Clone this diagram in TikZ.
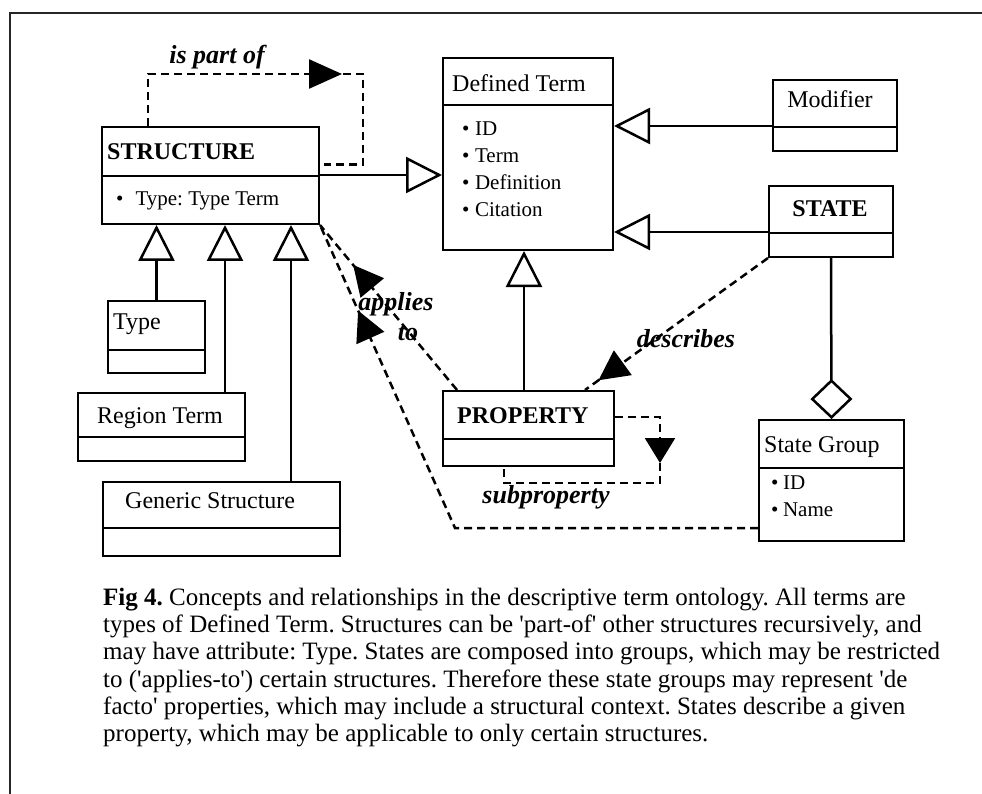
\documentclass[tikz,border=0pt]{standalone}
\usepackage{fontspec}
\newfontfamily\tnr{Liberation Serif}
\usetikzlibrary{arrows.meta,decorations.markings}
\frenchspacing

\begin{document}
\begin{tikzpicture}[x=1pt,y=-1pt,
  box/.style={draw, line width=2pt, inner sep=0pt, anchor=north west},
  txt/.style={inner sep=0pt, font=\tnr\fontsize{24}{28}\selectfont},
  btxt/.style={inner sep=0pt, font=\tnr\bfseries\fontsize{24}{28}\selectfont},
  attr/.style={inner sep=0pt, anchor=base west, font=\tnr\fontsize{21}{25}\selectfont},
  lbl/.style={inner sep=0pt, anchor=base, font=\tnr\bfseries\itshape\fontsize{26}{30}\selectfont},
  captext/.style={inner sep=0pt, anchor=base west, font=\tnr\fontsize{25}{29}\selectfont},
  conn/.style={line width=2.5pt},
  gen/.style={conn, -{Triangle[open, length=36pt, width=36pt]}},
  dep/.style={line width=2.5pt, dash pattern=on 8pt off 5pt},
  tipat/.style n args={3}{postaction={decorate, solid},
    decoration={markings, mark=at position #1 with {\arrow{Triangle[length=#2, width=#3]}}}},
]
\useasboundingbox (0,0) rectangle (982,794);

% frame
\draw[line width=2.5pt, black!85] (10,820) -- (10,13) -- (1000,13);

% class boxes: title part and attribute part
\node[box, minimum width=217pt, minimum height=49pt] (st)  at (101,126) {};
\node[box, minimum width=217pt, minimum height=48pt] (sta) at (101,175) {};
\node[box, minimum width=170pt, minimum height=47pt] (dt)  at (442,57) {};
\node[box, minimum width=170pt, minimum height=145pt] (dta) at (442,104) {};
\node[box, minimum width=124pt, minimum height=47pt] (mo)  at (772,79) {};
\node[box, minimum width=124pt, minimum height=24pt] (moa) at (772,126) {};
\node[box, minimum width=124pt, minimum height=47pt] (ss)  at (768,185) {};
\node[box, minimum width=124pt, minimum height=24pt] (ssa) at (768,232) {};
\node[box, minimum width=145pt, minimum height=48pt] (sg)  at (758,419) {};
\node[box, minimum width=145pt, minimum height=73pt] (sga) at (758,467) {};
\node[box, minimum width=171pt, minimum height=48pt] (pr)  at (442,390) {};
\node[box, minimum width=171pt, minimum height=27pt] (pra) at (442,438) {};
\node[box, minimum width=97pt,  minimum height=49pt] (ty)  at (107,300) {};
\node[box, minimum width=97pt,  minimum height=23pt] (tya) at (107,349) {};
\node[box, minimum width=167pt, minimum height=44pt] (rt)  at (77,392) {};
\node[box, minimum width=167pt, minimum height=24pt] (rta) at (77,436) {};
\node[box, minimum width=237pt, minimum height=46pt] (gs)  at (102,481) {};
\node[box, minimum width=237pt, minimum height=28pt] (gsa) at (102,527) {};

% box texts
\node[btxt, anchor=base west] (stT) at (107,160) {STRUCTURE};
\node[attr] (stA) at (116,206) {\textbullet\hspace{12pt}Type: Type Term};
\node[txt, anchor=base west] (dtT) at (452,92) {Defined Term};
\foreach \t [count=\i] in {ID,Term,Definition,Citation}
  \node[attr] (dtA\i) at (462,109+27*\i) {\textbullet\hspace{5.5pt}\t};
\node[txt, anchor=base] (moT) at (830,108) {Modifier};
\node[btxt, anchor=base] (ssT) at (830,217) {STATE};
\node[txt, anchor=base west] (sgT) at (764,452) {State Group};
\node[attr] (sgA1) at (771,489) {\textbullet\hspace{4.5pt}ID};
\node[attr] (sgA2) at (771,516) {\textbullet\hspace{4.5pt}Name};
\node[btxt, anchor=base west] (prT) at (457,423) {PROPERTY};
\node[txt, anchor=base west] (tyT) at (113,329) {Type};
\node[txt, anchor=base west] (rtT) at (97,423) {Region Term};
\node[txt, anchor=base west] (gsT) at (125,508) {Generic Structure};

% generalisations
\coordinate (rtx) at ([xshift=-21pt]rt.north east);
\coordinate (gsx) at ([xshift=-50pt]gs.north east);
\coordinate (prx) at ([xshift=-4.5pt]pr.north);
\draw[gen] (ty.north) -- (ty.north |- sta.south);
\draw[gen] (rtx) -- (rtx |- sta.south);
\draw[gen] (gsx) -- (gsx |- sta.south);
\draw[gen] (sta.north east) -- (sta.north east -| dta.west);
\draw[gen] (moa.north west) -- (moa.north west -| dta.east);
\draw[gen] (ssa.north west) -- (ssa.north west -| dta.east);
\draw[gen] (prx) -- (prx |- dta.south);

% aggregation
\draw[conn, -{Diamond[open, length=40pt, width=42pt]}] (ssa.south) -- (sg.north);

% dependencies
\coordinate (ip0) at ([xshift=47pt]st.north west);
\coordinate (ip1) at ([xshift=4pt, yshift=-13pt]st.east);
\draw[dep, tipat={246pt}{33pt}{29pt}] (ip0) -- ++(0,-52) -- ++(215,0) |- (ip1);

\coordinate (apA) at ([xshift=15pt]pr.north west);
\draw[dep, tipat={162.6pt}{30pt}{30pt}] (apA) -- (sta.south east);
\coordinate (apB) at ([yshift=-23.5pt]sga.west);
\draw[dep, tipat={541pt}{30pt}{30pt}] (apB) -- ++(-303,0) -- (sta.south east);

\coordinate (dsB) at ([xshift=-30pt]pr.north east);
\draw[dep, tipat={209pt}{30pt}{30pt}] (ssa.south west) -- (dsB);

\coordinate (spA) at ([yshift=-2pt]pr.east);
\coordinate (spB) at ([xshift=-24.5pt]pra.south);
\draw[dep, tipat={91pt}{25pt}{30pt}] (spA) -- ++(45,0) -- ++(0,66) -| (spB);

% relationship labels
\node[lbl] (lIs) at (217,64) {is part of};
\node[lbl] (lAp1) at (396,310) {applies};
\node[lbl] (lAp2) at (408,340) {to};
\node[lbl] (lDe) at (686,347) {describes};
\node[lbl] (lSp) at (546,503) {subproperty};

% caption
\node[captext] (c1) at (103,605) {\textbf{Fig 4.} Concepts and relationships in the descriptive term ontology. All terms are};
\node[captext] (c2) at (103,632) {types of Defined Term. Structures can be 'part-of' other structures recursively, and};
\node[captext] (c3) at (103,659) {may have attribute: Type. States are composed into groups, which may be restricted};
\node[captext] (c4) at (103,687) {to ('applies-to') certain structures. Therefore these state groups may represent 'de};
\node[captext] (c5) at (103,714) {facto' properties, which may include a structural context. States describe a given};
\node[captext] (c6) at (103,741) {property, which may be applicable to only certain structures.};
\end{tikzpicture}
\end{document}
